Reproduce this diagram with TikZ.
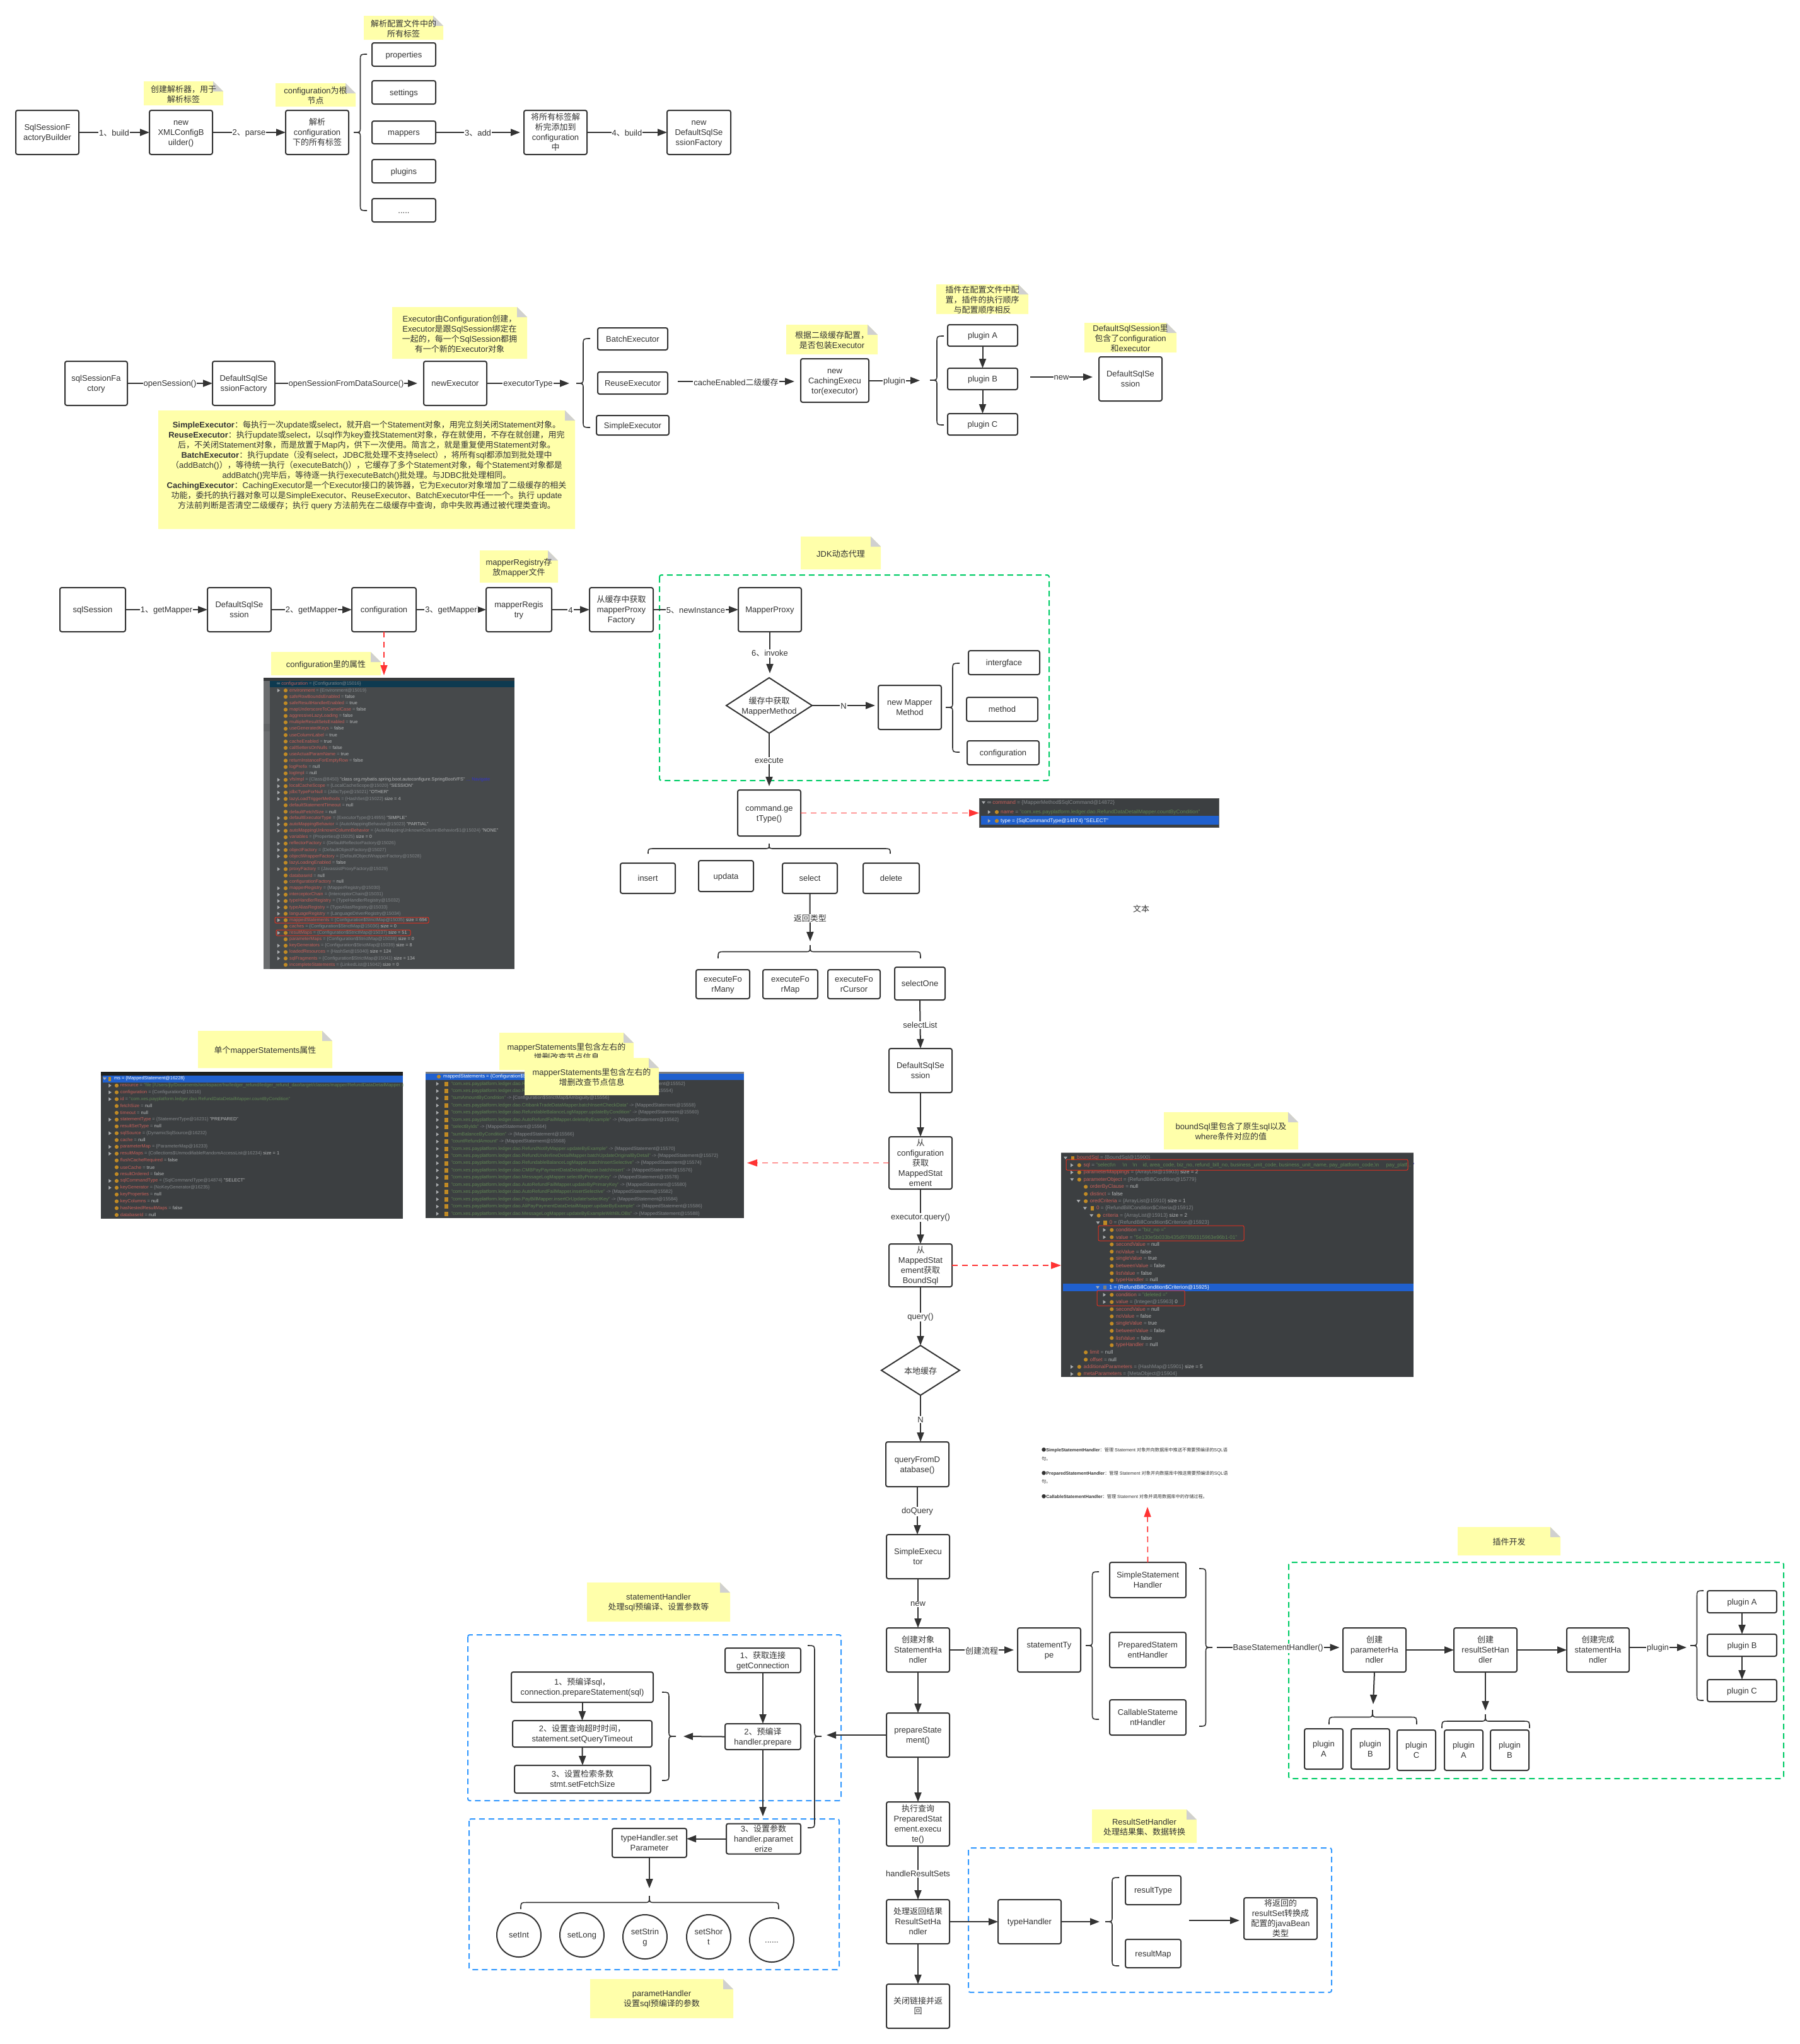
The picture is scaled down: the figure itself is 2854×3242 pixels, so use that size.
\documentclass[tikz,border=0pt]{standalone}
\usepackage{fontspec}
\usetikzlibrary{arrows.meta}
\setmainfont{Liberation Sans}
\newfontfamily\cjkfont{Noto Sans CJK SC}
% automatic switch to the CJK family for CJK characters
\newXeTeXintercharclass\cjkcls
\newcount\cjkn
\newcommand\cjkrange[2]{\cjkn=#1 \loop\XeTeXcharclass\cjkn=\cjkcls\relax\ifnum\cjkn<#2 \advance\cjkn by 1 \repeat}
\cjkrange{"3000}{"303F}
\cjkrange{"4E00}{"9FFF}
\cjkrange{"FF00}{"FFEF}
\XeTeXcharclass"25CF=\cjkcls
\XeTeXinterchartoks 0 \cjkcls={\cjkfont}
\XeTeXinterchartoks 4095 \cjkcls={\cjkfont}
\XeTeXinterchartoks \cjkcls 0={\rmfamily}
\XeTeXinterchartoks \cjkcls 4095={\rmfamily}
\XeTeXinterchartokenstate=1

\definecolor{ink}{HTML}{333333}
\definecolor{notey}{HTML}{FFFFAA}
\definecolor{foldg}{HTML}{D0D0D0}
\definecolor{redl}{HTML}{FF3333}
\definecolor{greenl}{HTML}{00CC66}
\definecolor{bluel}{HTML}{3399FF}
\definecolor{nm}{HTML}{C8605A}
\definecolor{gyc}{HTML}{84888B}
\definecolor{wvc}{HTML}{B8BABB}
\definecolor{svc}{HTML}{5F8553}
\definecolor{icoc}{HTML}{C08A25}
\definecolor{trc}{HTML}{A9ABAD}
\definecolor{shotbg}{HTML}{3C3F41}
\definecolor{shotbgb}{HTML}{46494B}
\definecolor{bandb}{HTML}{2060CE}
\definecolor{bandt}{HTML}{0E3A50}
\definecolor{redb}{HTML}{E03020}
\newcommand\Vg[1]{\textcolor{gyc}{#1}}
\newcommand\Vw[1]{\textcolor{wvc}{#1}}
\newcommand\Vs[1]{\textcolor{svc}{#1}}
\newcommand\Tc[1]{\raisebox{-1.5pt}[\height][\depth]{\begin{tabular}{@{}c@{}}#1\end{tabular}}}
\newcommand\Mx{}\newcommand\My{}\newcommand\Mw{}\newcommand\Mh{}\newcommand\Mm{}
\newcommand\rowfont{\fontsize{7.3}{8}\selectfont}
\newcommand\mybox[6]{\pgfmathsetmacro\Mx{(#2+#4)/2}\pgfmathsetmacro\My{(#3+#5)/2}\pgfmathsetmacro\Mw{#4-#2}\pgfmathsetmacro\Mh{#5-#3}\node[bx,minimum width=\Mw,minimum height=\Mh] (#1) at (\Mx,\My) {\Tc{#6}};}
\newcommand\mynote[6]{\pgfmathsetmacro\Mx{(#2+#4)/2}\pgfmathsetmacro\My{(#3+#5)/2}\fill[notey] (#2,#3) -- (#4-16,#3) -- (#4,#3+16) -- (#4,#5) -- (#2,#5) -- cycle;\fill[foldg] (#4-16,#3) -- (#4,#3+16) -- (#4-16,#3+16) -- cycle;\node[notetxt] (#1) at (\Mx,\My) {#6};}
% vertical brace: tip x, ends x, y top, y bottom, y of the tip
\newcommand\BrV[5]{\pgfmathsetmacro\Mm{(#1+#2)/2}\draw[brc] (#2,#3) .. controls (\Mm,#3) .. (\Mm,#3+10) -- (\Mm,#5-8) .. controls (\Mm,#5) .. (#1,#5) .. controls (\Mm,#5) .. (\Mm,#5+8) -- (\Mm,#4-10) .. controls (\Mm,#4) .. (#2,#4);}
% horizontal brace: x left, x right, y tip, y ends, x of the tip
\newcommand\BrH[5]{\pgfmathsetmacro\Mm{(#3+#4)/2}\draw[brc] (#1,#4) .. controls (#1,\Mm) .. (#1+10,\Mm) -- (#5-8,\Mm) .. controls (#5,\Mm) .. (#5,#3) .. controls (#5,\Mm) .. (#5+8,\Mm) -- (#2-10,\Mm) .. controls (#2,\Mm) .. (#2,#4);}
\newcount\rowno
\let\ifbaricon\iffalse
\newcommand\barnext{\let\ifbaricon\iftrue}
% row of a debugger screenshot: flag(0,1,2), tri x, icon x, text x, y, name, value
\newcommand\R[7]{%
 \ifnum#1=1 \fill[trc] (#2-2.2,#5-3) -- (#2+2.2,#5) -- (#2-2.2,#5+3) -- cycle;\fi
 \ifnum#1=2 \fill[trc] (#2-3,#5-2.2) -- (#2+3,#5-2.2) -- (#2,#5+2.2) -- cycle;\fi
 \ifbaricon \fill[icoc] (#3-2.6,#5-3.2) rectangle (#3+2.6,#5+3.2);\else \fill[icoc] (#3,#5) circle (3.1);\fi
 \let\ifbaricon\iffalse
 \global\advance\rowno by 1
 \node[rowtxt] (row\the\rowno) at (#4,#5) {\textcolor{nm}{#6} \Vg{=} #7};%
}
\newcommand\RA[4]{\pgfmathsetmacro\My{1085+10.12*#1}\R{#2}{442}{453}{459}{\My}{#3}{#4}}
\newcommand\RB[4]{\pgfmathsetmacro\My{1711+10.8*#1}\R{#2}{174.5}{185}{190.7}{\My}{#3}{#4}}
\newcommand\RC[2]{\pgfmathsetmacro\My{1707.6+11.45*#1}\fill[trc] (694-2.2,\My-3) -- (694+2.2,\My) -- (694-2.2,\My+3) -- cycle;\fill[icoc] (705.4,\My-3.5) rectangle (710.6,\My+3.5);\global\advance\rowno by 1 \node[rowtxt] (row\the\rowno) at (715.4,\My) {#2};}
\newcommand\RD[5]{\pgfmathsetmacro\My{1836.7+11.42*#1}\pgfmathsetmacro\Mm{1708+10.3*#2}\R{#3}{\Mm-18}{\Mm-6.5}{\Mm}{\My}{#4}{#5}}
\newcommand\Dao{"com.xes.payplatform.ledger.dao.}
\newcommand\MS[1]{\Vg{-> \{MappedStatement@#1\}}}

\tikzset{
 bx/.style={draw=ink,line width=2pt,rounded corners=3pt,fill=white,inner sep=0pt,outer sep=0pt,text=ink,font=\fontsize{13}{16}\selectfont},
 circ/.style={draw=ink,line width=2pt,circle,fill=white,inner sep=0pt,outer sep=0pt,minimum size=70pt,text=ink,font=\fontsize{13}{16}\selectfont},
 notetxt/.style={inner sep=0pt,align=center,text=ink,yshift=-1.5pt,font=\fontsize{13}{16}\selectfont},
 dia/.style={draw=ink,line width=2pt,fill=white},
 arr/.style={draw=ink,line width=2pt,-{Triangle[length=15pt,width=11pt]}},
 lab/.style={fill=white,inner sep=1pt,text=ink,yshift=-1.5pt,font=\fontsize{13}{16}\selectfont},
 brc/.style={draw=ink,line width=1.6pt},
 redarr/.style={draw=redl,line width=1.6pt,dash pattern=on 9pt off 7pt,-{Triangle[length=16pt,width=11pt]}},
 greenbox/.style={draw=greenl,line width=2pt,dash pattern=on 9pt off 6pt,rounded corners=3pt},
 bluebox/.style={draw=bluel,line width=2pt,dash pattern=on 9pt off 6pt,rounded corners=3pt},
 rowtxt/.style={anchor=west,inner sep=0pt,text=wvc,font=\rowfont},
 redr/.style={draw=redb,line width=1pt,rounded corners=2pt},
 tinytxt/.style={anchor=west,inner sep=0pt,text=ink,font=\fontsize{7.2}{9}\selectfont},
}
\begin{document}
\begin{tikzpicture}[x=1pt,y=-1pt]
\useasboundingbox (0,0) rectangle (2854,3242);
\fill[white] (0,0) rectangle (2854,3242);

%%%%%%%%%%%%%%% row 1
\mynote{na}{577}{25}{703}{63}{解析配置文件中的\\所有标签}
\mynote{nb}{228}{129}{354}{167}{创建解析器，用于\\解析标签}
\mynote{nc}{437}{132}{564}{169}{configuration为根\\节点}
\mybox{aa}{25}{175}{125}{245}{SqlSessionF\\actoryBuilder}
\mybox{ab}{237}{175}{337}{245}{new\\XMLConfigB\\uilder()}
\mybox{ac}{453}{175}{553}{245}{解析\\configuration\\下的所有标签}
\mybox{pa}{590}{68}{691}{105}{properties}
\mybox{pb}{590}{128}{691}{165}{settings}
\mybox{pc}{590}{192}{691}{228}{mappers}
\mybox{pd}{590}{253}{691}{290}{plugins}
\mybox{pe}{590}{315}{691}{352}{.....}
\mybox{ad}{831}{175}{931}{245}{将所有标签解\\析完添加到\\configuration\\中}
\mybox{ae}{1058}{175}{1159}{245}{new\\DefaultSqlSe\\ssionFactory}
\BrV{561}{582}{86}{334}{210}
\coordinate (adin) at (825,210);
\draw[arr] (aa.east) -- node[lab] (la1) {1、build} (ab.west);
\draw[arr] (ab.east) -- node[lab] (la2) {2、parse} (ac.west);
\draw[arr] (pc.east) -- node[lab] (la3) {3、add} (adin);
\draw[arr] (ad.east) -- node[lab] (la4) {4、build} (ae.west);

%%%%%%%%%%%%%%% row 2
\mynote{nd}{622}{487}{836}{569}{Executor由Configuration创建，\\Executor是跟SqlSession绑定在\\一起的，每一个SqlSession都拥\\有一个新的Executor对象}
\mynote{ne}{1247}{515}{1392}{562}{根据二级缓存配置，\\是否包装Executor}
\mynote{nf}{1485}{451}{1631}{498}{插件在配置文件中配\\置，插件的执行顺序\\与配置顺序相反}
\mynote{ng}{1720}{512}{1866}{559}{DefaultSqlSession里\\包含了configuration\\和executor}
\mybox{ba}{103}{573}{202}{643}{sqlSessionFa\\ctory}
\mybox{bb}{337}{573}{436}{643}{DefaultSqlSe\\ssionFactory}
\mybox{bc}{672}{573}{772}{643}{newExecutor}
\mybox{ea}{948}{520}{1059}{555}{BatchExecutor}
\mybox{eb}{948}{590}{1059}{625}{ReuseExecutor}
\mybox{ec}{946}{659}{1061}{690}{SimpleExecutor}
\BrV{914}{936}{537}{678}{608}
\mybox{bd}{1270}{569}{1378}{638}{new\\CachingExecu\\tor(executor)}
\mybox{ga}{1503}{515}{1614}{549}{plugin A}
\mybox{gb}{1503}{584}{1614}{618}{plugin B}
\mybox{gc}{1503}{656}{1614}{690}{plugin C}
\BrV{1475}{1497}{533}{674}{603}
\mybox{be}{1743}{566}{1843}{636}{DefaultSqlSe\\ssion}
\coordinate (c1) at (662,608);
\coordinate (c2) at (903,608);
\coordinate (c3) at (1075,605);
\coordinate (c4) at (1260,605);
\coordinate (c5) at (1459,603.5);
\coordinate (c6) at (1634,598);
\coordinate (c7) at (1733,598);
\draw[arr] (ba.east) -- node[lab] (lb1) {openSession()} (bb.west);
\draw[arr] (bb.east) -- node[lab] (lb2) {openSessionFromDataSource()} (c1);
\draw[arr] (bc.east) -- node[lab] (lb3) {executorType} (c2);
\draw[arr] (c3) -- node[lab] (lb4) {cacheEnabled二级缓存} (c4);
\draw[arr] (bd.east) -- node[lab] (lb5) {plugin} (c5);
\draw[arr] (c6) -- node[lab] (lb6) {new} (c7);
\draw[arr] (ga.south) -- (gb.north);
\draw[arr] (gb.south) -- (gc.north);

% the long note
\fill[notey] (251,651) -- (896,651) -- (912,667) -- (912,839) -- (251,839) -- cycle;
\fill[foldg] (896,651) -- (912,667) -- (896,667) -- cycle;
\node[notetxt,anchor=north] (nh) at (581.5,666) {\textbf{SimpleExecutor}：每执行一次update或select，就开启一个Statement对象，用完立刻关闭Statement对象。\\
\textbf{ReuseExecutor}：执行update或select，以sql作为key查找Statement对象，存在就使用，不存在就创建，用完\\
后，不关闭Statement对象，而是放置于Map内，供下一次使用。简言之，就是重复使用Statement对象。\\
\textbf{BatchExecutor}：执行update（没有select，JDBC批处理不支持select），将所有sql都添加到批处理中\\
（addBatch()），等待统一执行（executeBatch()），它缓存了多个Statement对象，每个Statement对象都是\\
addBatch()完毕后，等待逐一执行executeBatch()批处理。与JDBC批处理相同。\\
\textbf{CachingExecutor}：CachingExecutor是一个Executor接口的装饰器，它为Executor对象增加了二级缓存的相关\\
功能，委托的执行器对象可以是SimpleExecutor、ReuseExecutor、BatchExecutor中任一一个。执行 update\\
方法前判断是否清空二级缓存；执行 query 方法前先在二级缓存中查询，命中失败再通过被代理类查询。};

%%%%%%%%%%%%%%% row 3
\draw[greenbox] (1046,912) rectangle (1664,1238);
\mynote{ni}{761}{873}{885}{924}{mapperRegistry存\\放mapper文件}
\mynote{nj}{1270}{851}{1397}{903}{JDK动态代理}
\mynote{nk}{430}{1034}{604}{1071}{configuration里的属性}
\mybox{ca}{95}{932}{199}{1002}{sqlSession}
\mybox{cb}{329}{932}{430}{1002}{DefaultSqlSe\\ssion}
\mybox{cc}{558}{932}{660}{1002}{configuration}
\mybox{cd}{771}{932}{875}{1002}{mapperRegis\\try}
\mybox{ce}{935}{932}{1036}{1002}{从缓存中获取\\mapperProxy\\Factory}
\mybox{cf}{1171}{932}{1271}{1002}{MapperProxy}
\draw[arr] (ca.east) -- node[lab] (lc1) {1、getMapper} (cb.west);
\draw[arr] (cb.east) -- node[lab] (lc2) {2、getMapper} (cc.west);
\draw[arr] (cc.east) -- node[lab] (lc3) {3、getMapper} (cd.west);
\draw[arr] (cd.east) -- node[lab] (lc4) {4} (ce.west);
\draw[arr] (ce.east) -- node[lab] (lc5) {5、newInstance} (cf.west);
% diamond
\coordinate (dc) at (1220,1119);
\coordinate (dn) at (1220,1075);
\coordinate (ds) at (1220,1163);
\coordinate (dw) at (1152,1119);
\coordinate (de) at (1288,1119);
\draw[dia] (dn) -- (de) -- (ds) -- (dw) -- cycle;
\node[notetxt] (dt) at (dc) {缓存中获取\\MapperMethod};
\mybox{ch}{1393}{1087}{1493}{1157}{new Mapper\\Method}
\mybox{ci}{1536}{1032}{1649}{1070}{intergface}
\mybox{cj}{1533}{1106}{1646}{1144}{method}
\mybox{ck}{1534}{1175}{1648}{1213}{configuration}
\BrV{1500}{1522}{1052}{1193}{1122}
\coordinate (c8) at (1221,1068);
\coordinate (c9) at (1388,1119);
\coordinate (c10) at (1220,1247);
\draw[arr] (cf.south) -- node[lab] (lc6) {6、invoke} (c8);
\draw[arr] (de) -- node[lab] (lc7) {N} (c9);
\draw[arr] (ds) -- node[lab] (lc8) {execute} (c10);
\mybox{cm}{1170}{1253}{1270}{1326}{command.ge\\tType()}
\BrH{1028}{1412}{1338}{1354}{1220}
\mybox{ma}{984}{1369}{1071}{1417}{insert}
\mybox{mb}{1108}{1365}{1195}{1414}{updata}
\mybox{mc}{1241}{1369}{1328}{1417}{select}
\mybox{md}{1369}{1369}{1458}{1417}{delete}
\coordinate (c11) at (1285,1493);
\draw[arr] (mc.south) -- node[lab] (lc9) {返回类型} (c11);
\BrH{1139}{1460}{1499}{1520}{1285}
\mybox{ra}{1104}{1538}{1189}{1584}{executeFo\\rMany}
\mybox{rb}{1210}{1538}{1297}{1584}{executeFo\\rMap}
\mybox{rc}{1313}{1538}{1396}{1584}{executeFo\\rCursor}
\mybox{rd}{1419}{1534}{1499}{1586}{selectOne}
\node[notetxt] (wb) at (1810,1440) {文本};

%%%%%%%%%%%%%%% screenshot: configuration
\node[fill=shotbgb,minimum width=398,minimum height=462,inner sep=0pt,outer sep=0pt] (shotA) at (617,1306) {};
\begin{scope}
\clip (418,1075) rectangle (816,1537);
\fill[black!20!shotbgb] (418,1075) rectangle (816,1080);
\fill[shotbgb!80!white] (418,1080) rectangle (428,1537);
\fill[shotbgb!85!white] (418,1148) rectangle (428,1160);
\fill[bandt] (428,1080) rectangle (816,1090);
\renewcommand\rowfont{\fontsize{7.3}{8}\selectfont}
\global\advance\rowno by 1
\node[rowtxt] (row\the\rowno) at (439,1085) {\textcolor{trc}{∞} \textcolor{nm}{configuration} \Vg{= \{Configuration@15016\}}};
\RA{1}{1}{environment}{\Vg{\{Environment@15019\}}}
\RA{2}{0}{safeRowBoundsEnabled}{false}
\RA{3}{0}{safeResultHandlerEnabled}{true}
\RA{4}{0}{mapUnderscoreToCamelCase}{false}
\RA{5}{0}{aggressiveLazyLoading}{false}
\RA{6}{0}{multipleResultSetsEnabled}{true}
\RA{7}{0}{useGeneratedKeys}{false}
\RA{8}{0}{useColumnLabel}{true}
\RA{9}{0}{cacheEnabled}{true}
\RA{10}{0}{callSettersOnNulls}{false}
\RA{11}{0}{useActualParamName}{true}
\RA{12}{0}{returnInstanceForEmptyRow}{false}
\RA{13}{0}{logPrefix}{null}
\RA{14}{0}{logImpl}{null}
\RA{15}{1}{vfsImpl}{\Vg{\{Class@8450\}} "class org.mybatis.spring.boot.autoconfigure.SpringBootVFS" \textcolor{blue!60!gray}{... Navigate}}
\RA{16}{1}{localCacheScope}{\Vg{\{LocalCacheScope@15020\}} "SESSION"}
\RA{17}{1}{jdbcTypeForNull}{\Vg{\{JdbcType@15021\}} "OTHER"}
\RA{18}{1}{lazyLoadTriggerMethods}{\Vg{\{HashSet@15022\}} size = 4}
\RA{19}{0}{defaultStatementTimeout}{null}
\RA{20}{0}{defaultFetchSize}{null}
\RA{21}{1}{defaultExecutorType}{\Vg{\{ExecutorType@14955\}} "SIMPLE"}
\RA{22}{1}{autoMappingBehavior}{\Vg{\{AutoMappingBehavior@15023\}} "PARTIAL"}
\RA{23}{1}{autoMappingUnknownColumnBehavior}{\Vg{\{AutoMappingUnknownColumnBehavior\$1@15024\}} "NONE"}
\RA{24}{0}{variables}{\Vg{\{Properties@15025\}} size = 0}
\RA{25}{1}{reflectorFactory}{\Vg{\{DefaultReflectorFactory@15026\}}}
\RA{26}{1}{objectFactory}{\Vg{\{DefaultObjectFactory@15027\}}}
\RA{27}{1}{objectWrapperFactory}{\Vg{\{DefaultObjectWrapperFactory@15028\}}}
\RA{28}{0}{lazyLoadingEnabled}{false}
\RA{29}{1}{proxyFactory}{\Vg{\{JavassistProxyFactory@15029\}}}
\RA{30}{0}{databaseId}{null}
\RA{31}{0}{configurationFactory}{null}
\RA{32}{1}{mapperRegistry}{\Vg{\{MapperRegistry@15030\}}}
\RA{33}{1}{interceptorChain}{\Vg{\{InterceptorChain@15031\}}}
\RA{34}{1}{typeHandlerRegistry}{\Vg{\{TypeHandlerRegistry@15032\}}}
\RA{35}{1}{typeAliasRegistry}{\Vg{\{TypeAliasRegistry@15033\}}}
\RA{36}{1}{languageRegistry}{\Vg{\{LanguageDriverRegistry@15034\}}}
\RA{37}{1}{mappedStatements}{\Vg{\{Configuration\$StrictMap@15035\}} size = 694}
\RA{38}{0}{caches}{\Vg{\{Configuration\$StrictMap@15036\}} size = 0}
\RA{39}{1}{resultMaps}{\Vg{\{Configuration\$StrictMap@15037\}} size = 51}
\RA{40}{0}{parameterMaps}{\Vg{\{Configuration\$StrictMap@15038\}} size = 0}
\RA{41}{1}{keyGenerators}{\Vg{\{Configuration\$StrictMap@15039\}} size = 8}
\RA{42}{1}{loadedResources}{\Vg{\{HashSet@15040\}} size = 124}
\RA{43}{1}{sqlFragments}{\Vg{\{Configuration\$StrictMap@15041\}} size = 134}
\RA{44}{0}{incompleteStatements}{\Vg{\{LinkedList@15042\}} size = 0}
\draw[redr] (436,1455) rectangle (680,1464);
\draw[redr] (438,1475) rectangle (651,1484);
\end{scope}

\coordinate (c12) at (609,1071);
\draw[redarr] (cc.south) -- (c12);

%%%%%%%%%%%%%%% screenshot: command
\node[draw=gray!80!black,line width=1pt,fill=shotbg,minimum width=380,minimum height=46,inner sep=0pt,outer sep=0pt] (shotE) at (1743,1289) {};
\fill[bandb] (1556,1294) rectangle (1933,1308);
\begin{scope}
\renewcommand\rowfont{\fontsize{8.3}{9}\selectfont}
\fill[trc] (1560-3,1273-2.2) -- (1560+3,1273-2.2) -- (1560,1273+2.2) -- cycle;
\global\advance\rowno by 1
\node[rowtxt] (row\the\rowno) at (1566,1273) {\textcolor{trc}{∞} \textcolor{nm}{command} \Vg{= \{MapperMethod\$SqlCommand@14872\}}};
\R{1}{1569}{1581}{1587}{1288}{name}{\Vs{"com.xes.payplatform.ledger.dao.RefundDataDetailMapper.countByCondition"}}
\fill[trc] (1569-2.2,1302-3) -- (1569+2.2,1302) -- (1569-2.2,1302+3) -- cycle;
\fill[icoc] (1581,1302) circle (3.1);
\global\advance\rowno by 1
\node[rowtxt] (row\the\rowno) at (1587,1302) {\textcolor{white}{type = \{SqlCommandType@14874\} "SELECT"}};
\end{scope}
\draw[redarr] (cm.east) -- (cm.east -| shotE.west);

%%%%%%%%%%%%%%% main column
\mybox{sa}{1410}{1663}{1510}{1733}{DefaultSqlSe\\ssion}
\mybox{sb}{1410}{1803}{1510}{1886}{从\\configuration\\获取\\MappedStat\\ement}
\mybox{sc}{1410}{1973}{1510}{2041}{从\\MappedStat\\ement获取\\BoundSql}
\coordinate (gn) at (1460,2134);
\coordinate (gs) at (1460,2213);
\coordinate (gw) at (1398,2173.5);
\coordinate (ge) at (1522,2173.5);
\draw[dia] (gn) -- (ge) -- (gs) -- (gw) -- cycle;
\node[notetxt] (gt) at (1460,2173.5) {本地缓存};
\mybox{sd}{1405}{2287}{1505}{2358}{queryFromD\\atabase()}
\mybox{se}{1406}{2434}{1506}{2504}{SimpleExecu\\tor}
\mybox{sf}{1406}{2582}{1506}{2652}{创建对象\\StatementHa\\ndler}
\mybox{sg}{1406}{2717}{1506}{2787}{prepareState\\ment()}
\mybox{sh}{1406}{2858}{1506}{2928}{执行查询\\PreparedStat\\ement.execu\\te()}
\mybox{si}{1406}{3013}{1506}{3083}{处理返回结果\\ResultSetHa\\ndler}
\mybox{sj}{1406}{3147}{1506}{3217}{关闭链接并返\\回}
\draw[arr] (rd.south) -- node[lab] (ld1) {selectList} (sa.north);
\draw[arr] (sa.south) -- (sb.north);
\draw[arr] (sb.south) -- node[lab] (ld2) {executor.query()} (sc.north);
\draw[arr] (sc.south) -- node[lab] (ld3) {query()} (gn);
\draw[arr] (gs) -- node[lab] (ld4) {N} (gs |- sd.north);
\draw[arr] (sd.south) -- node[lab] (ld5) {doQuery} (sd.south |- se.north);
\draw[arr] (se.south) -- node[lab] (ld6) {new} (sf.north);
\draw[arr] (sf.south) -- (sg.north);
\draw[arr] (sg.south) -- (sh.north);
\draw[arr] (sh.south) -- node[lab] (ld7) {handleResultSets} (si.north);
\draw[arr] (si.south) -- (sj.north);

%%%%%%%%%%%%%%% screenshot: single mappedStatement
\node[fill=shotbg,minimum width=479,minimum height=233,inner sep=0pt,outer sep=0pt] (shotB) at (399.5,1816.5) {};
\begin{scope}
\clip (160,1700) rectangle (639,1933);
\fill[black!50!shotbg] (160,1700) rectangle (639,1706);
\fill[bandb] (163,1706) rectangle (639,1717);
\renewcommand\rowfont{\fontsize{7.4}{8}\selectfont}
\fill[trc] (166-3,1711-2.2) -- (166+3,1711-2.2) -- (166,1711+2.2) -- cycle;
\fill[icoc] (174-2.2,1711-3.5) rectangle (174+2.2,1711+3.5);
\global\advance\rowno by 1
\node[rowtxt] (row\the\rowno) at (181,1711) {\textcolor{white}{ms = \{MappedStatement@16228\}}};
\RB{1}{1}{resource}{\Vs{"file [/Users/jly/Documents/workspace/hw/ledger\_refund/ledger\_refund\_dao/target/classes/mapper/RefundDataDetailMapper.xml]"}}
\RB{2}{1}{configuration}{\Vg{\{Configuration@15016\}}}
\RB{3}{1}{id}{\Vs{"com.xes.payplatform.ledger.dao.RefundDataDetailMapper.countByCondition"}}
\RB{4}{0}{fetchSize}{null}
\RB{5}{0}{timeout}{null}
\RB{6}{1}{statementType}{\Vg{\{StatementType@16231\}} "PREPARED"}
\RB{7}{0}{resultSetType}{null}
\RB{8}{1}{sqlSource}{\Vg{\{DynamicSqlSource@16232\}}}
\RB{9}{0}{cache}{null}
\RB{10}{1}{parameterMap}{\Vg{\{ParameterMap@16233\}}}
\RB{11}{1}{resultMaps}{\Vg{\{Collections\$UnmodifiableRandomAccessList@16234\}} size = 1}
\RB{12}{0}{flushCacheRequired}{false}
\RB{13}{0}{useCache}{true}
\RB{14}{0}{resultOrdered}{false}
\RB{15}{1}{sqlCommandType}{\Vg{\{SqlCommandType@14874\}} "SELECT"}
\RB{16}{1}{keyGenerator}{\Vg{\{NoKeyGenerator@16235\}}}
\RB{17}{0}{keyProperties}{null}
\RB{18}{0}{keyColumns}{null}
\RB{19}{0}{hasNestedResultMaps}{false}
\RB{20}{0}{databaseId}{null}
\end{scope}

%%%%%%%%%%%%%%% screenshot: mappedStatements
\node[fill=shotbg,minimum width=505,minimum height=232,inner sep=0pt,outer sep=0pt] (shotC) at (927.5,1816) {};
\begin{scope}
\clip (675,1700) rectangle (1180,1932);
\fill[gray] (675,1700) rectangle (1180,1703);
\fill[bandb] (675,1703) rectangle (1180,1712.5);
\renewcommand\rowfont{\fontsize{7.6}{8}\selectfont}
\fill[icoc] (696,1707.6) circle (3.1);
\global\advance\rowno by 1
\node[rowtxt] (row\the\rowno) at (703,1707.6) {\textcolor{white}{mappedStatements = \{Configuration\$StrictMap@15035\} size = 694}};
\RC{1}{\Vs{\Dao RefundDataDetailMapper.updateByExample"} \MS{15552}}
\RC{2}{\Vs{\Dao RefundDetailMapper.selectByExample"} \MS{15554}}
\RC{3}{\Vs{"sumAmountByCondition"} \Vg{-> \{Configuration\$StrictMap\$Ambiguity@15556\}}}
\RC{4}{\Vs{\Dao CitibankTradeDataMapper.batchInsertCheckData"} \MS{15558}}
\RC{5}{\Vs{\Dao RefundableBalanceLogMapper.updateByCondition"} \MS{15560}}
\RC{6}{\Vs{\Dao AutoRefundFailMapper.deleteByExample"} \MS{15562}}
\RC{7}{\Vs{"selectByIds"} \MS{15564}}
\RC{8}{\Vs{"sumBalanceByCondition"} \MS{15566}}
\RC{9}{\Vs{"countRefundAmount"} \MS{15568}}
\RC{10}{\Vs{\Dao RefundNotifyMapper.updateByExample"} \MS{15570}}
\RC{11}{\Vs{\Dao RefundUnderlineDetailMapper.batchUpdateOriginalByDetail"} \MS{15572}}
\RC{12}{\Vs{\Dao RefundableBalanceLogMapper.batchInsertSelective"} \MS{15574}}
\RC{13}{\Vs{\Dao CMBPayPaymentDataDetailMapper.batchInsert"} \MS{15576}}
\RC{14}{\Vs{\Dao MessageLogMapper.selectByPrimaryKey"} \MS{15578}}
\RC{15}{\Vs{\Dao AutoRefundFailMapper.updateByPrimaryKey"} \MS{15580}}
\RC{16}{\Vs{\Dao AutoRefundFailMapper.insertSelective"} \MS{15582}}
\RC{17}{\Vs{\Dao PayBillMapper.insertOrUpdate!selectKey"} \MS{15584}}
\RC{18}{\Vs{\Dao AliPayPaymentDataDetailMapper.updateByExample"} \MS{15586}}
\RC{19}{\Vs{\Dao MessageLogMapper.updateByExampleWithBLOBs"} \MS{15588}}
\end{scope}
\mynote{nl}{314}{1635}{527}{1694}{单个mapperStatements属性}
\mynote{nm}{792}{1638}{1005}{1697}{mapperStatements里包含左右的\\增删改查节点信息}
\mynote{nn}{832}{1678}{1045}{1737}{mapperStatements里包含左右的\\增删改查节点信息}
\draw[redarr,shorten >=5pt] (sb.west) -- (sb.west -| shotC.east);

%%%%%%%%%%%%%%% screenshot: boundSql
\node[fill=shotbg,minimum width=559,minimum height=356,inner sep=0pt,outer sep=0pt] (shotD) at (1962.5,2006) {};
\begin{scope}
\clip (1683,1828) rectangle (2242,2184);
\fill[gray] (1683,1828) rectangle (2242,1829);
\fill[bandb] (1686,2036) rectangle (2242,2048);
\renewcommand\rowfont{\fontsize{8.2}{9}\selectfont}
\barnext\RD{0}{0}{2}{boundSql}{\Vg{\{BoundSql@15900\}}}
\RD{1}{1}{1}{sql}{\Vs{"select\textbackslash n \ \ \ \ \textbackslash n \ \ \ \textbackslash n \ \ \ id, area\_code, biz\_no, refund\_bill\_no, business\_unit\_code, business\_unit\_name, pay\_platform\_code,\textbackslash n \ \ \ \ pay\_platf...} \textcolor{blue!60!gray}{View}}
\RD{2}{1}{1}{parameterMappings}{\Vg{\{ArrayList@15903\}} size = 2}
\RD{3}{1}{2}{parameterObject}{\Vg{\{RefundBillCondition@15779\}}}
\RD{4}{2}{0}{orderByClause}{null}
\RD{5}{2}{0}{distinct}{false}
\RD{6}{2}{2}{oredCriteria}{\Vg{\{ArrayList@15910\}} size = 1}
\barnext\RD{7}{3}{2}{0}{\Vg{\{RefundBillCondition\$Criteria@15912\}}}
\RD{8}{4}{2}{criteria}{\Vg{\{ArrayList@15913\}} size = 2}
\barnext\RD{9}{5}{2}{0}{\Vg{\{RefundBillCondition\$Criterion@15923\}}}
\RD{10}{6}{1}{condition}{\Vs{"biz\_no ="}}
\RD{11}{6}{1}{value}{\Vs{"5e130e5b033b435d97850315963e96b1-01"}}
\RD{12}{6}{0}{secondValue}{null}
\RD{13}{6}{0}{noValue}{false}
\RD{14}{6}{0}{singleValue}{true}
\RD{15}{6}{0}{betweenValue}{false}
\RD{16}{6}{0}{listValue}{false}
\RD{17}{6}{0}{typeHandler}{null}
\fill[trc] (1741-3,2042-2.2) -- (1741+3,2042-2.2) -- (1741,2042+2.2) -- cycle;
\fill[gray] (1750,2038.8) rectangle (1755.2,2045.2);
\global\advance\rowno by 1
\node[rowtxt] (row\the\rowno) at (1759.5,2042) {\textcolor{white}{1 = \{RefundBillCondition\$Criterion@15925\}}};
\RD{19}{6}{1}{condition}{\Vs{"deleted ="}}
\RD{20}{6}{1}{value}{\Vg{\{Integer@15963\}} 0}
\RD{21}{6}{0}{secondValue}{null}
\RD{22}{6}{0}{noValue}{false}
\RD{23}{6}{0}{singleValue}{true}
\RD{24}{6}{0}{betweenValue}{false}
\RD{25}{6}{0}{listValue}{false}
\RD{26}{6}{0}{typeHandler}{null}
\RD{27}{2}{0}{limit}{null}
\RD{28}{2}{0}{offset}{null}
\RD{29}{1}{1}{additionalParameters}{\Vg{\{HashMap@15901\}} size = 5}
\RD{30}{1}{1}{metaParameters}{\Vg{\{MetaObject@15904\}}}
\draw[redr] (1691,1839) rectangle (2233,1856);
\draw[redr] (1742,1944) rectangle (1973,1968);
\draw[redr] (1740,2047) rectangle (1879,2071);
\end{scope}
\mynote{no}{1846}{1764}{2059}{1823}{boundSql里包含了原生sql以及\\where条件对应的值}
\draw[redarr] (sc.east) -- (sc.east -| shotD.west);

%%%%%%%%%%%%%%% handlers
\node[tinytxt] (ta) at (1652,2300) {\textbf{●SimpleStatementHandler}：管理 Statement 对象并向数据库中推送不需要预编译的SQL语};
\node[tinytxt] (tb) at (1652,2314) {句。};
\node[tinytxt] (tc) at (1652,2337) {\textbf{●PreparedStatementHandler}：管理 Statement 对象并向数据库中推送需要预编译的SQL语};
\node[tinytxt] (td) at (1652,2350) {句。};
\node[tinytxt] (te) at (1652,2374) {\textbf{●CallableStatementHandler}：管理 Statement 对象并调用数据库中的存储过程。};

\draw[greenbox] (2044,2478) rectangle (2829,2821);
\mynote{np}{2312}{2422}{2475}{2467}{插件开发}
\mybox{ha}{1614}{2582}{1714}{2652}{statementTy\\pe}
\mybox{hb}{1760}{2478}{1881}{2534}{SimpleStatement\\Handler}
\mybox{hc}{1760}{2589}{1881}{2645}{PreparedStatem\\entHandler}
\mybox{hd}{1760}{2696}{1881}{2752}{CallableStateme\\ntHandler}
\BrV{1722}{1743}{2493}{2727}{2610}
\BrV{1923}{1902}{2488}{2738}{2613}
\coordinate (k1) at (1608,2617);
\coordinate (k2) at (1930,2613);
\coordinate (k3) at (2124.5,2613);
\coordinate (k4) at (1820,2390);
\draw[arr] (sf.east) -- node[lab] (le1) {创建流程} (k1);
\draw[arr] (k2) -- node[lab] (le2) {BaseStatementHandler()} (k3);
\draw[redarr] (hb.north) -- (k4);
\mybox{ia}{2130}{2582}{2230}{2652}{创建\\parameterHa\\ndler}
\mybox{ib}{2306}{2582}{2406}{2652}{创建\\resultSetHan\\dler}
\mybox{ic}{2485}{2582}{2584}{2652}{创建完成\\statementHa\\ndler}
\mybox{id}{2708}{2523}{2818}{2558}{plugin A}
\mybox{ie}{2708}{2592}{2818}{2627}{plugin B}
\mybox{if}{2708}{2664}{2818}{2699}{plugin C}
\BrV{2681}{2702}{2523}{2697}{2610}
\coordinate (k5) at (2675,2613);
\draw[arr] (ia.east) -- (ib.west);
\draw[arr] (ib.east) -- (ic.west);
\draw[arr] (ic.east |- k5) -- node[lab] (le3) {plugin} (k5);
\draw[arr] (id.south) -- (ie.north);
\draw[arr] (ie.south) -- (if.north);
\mybox{ja}{2069}{2742}{2130}{2806}{plugin\\A}
\mybox{jb}{2143}{2742}{2204}{2806}{plugin\\B}
\mybox{jc}{2216}{2744}{2277}{2808}{plugin\\C}
\mybox{jd}{2291}{2744}{2352}{2808}{plugin\\A}
\mybox{je}{2364}{2744}{2425}{2808}{plugin\\B}
\BrH{2108}{2247}{2712}{2735}{2177}
\BrH{2287}{2426}{2719}{2741}{2356}
\coordinate (k6) at (2178,2703);
\coordinate (k7) at (2356,2713);
\draw[arr] (ia.south) -- (k6);
\draw[arr] (ib.south) -- (k7);

%%%%%%%%%%%%%%% resultset
\draw[bluebox] (1536,2931) rectangle (2112,3160);
\mynote{nq}{1732}{2870}{1898}{2923}{ResultSetHandler\\处理结果集、数据转换}
\mybox{ka}{1583}{3013}{1683}{3083}{typeHandler}
\mybox{kb}{1785}{2975}{1873}{3021}{resultType}
\mybox{kc}{1785}{3076}{1873}{3121}{resultMap}
\mybox{kd}{1973}{3010}{2089}{3076}{将返回的\\resultSet转换成\\配置的javaBean\\类型}
\BrV{1753}{1775}{2978}{3118}{3048}
\coordinate (k8) at (1744,3048);
\coordinate (k9) at (1886,3046);
\coordinate (k10) at (1966,3046);
\draw[arr] (si.east) -- (ka.west);
\draw[arr] (ka.east) -- (k8);
\draw[arr] (k9) -- (k10);

%%%%%%%%%%%%%%% statement handler
\draw[bluebox] (742,2593) rectangle (1334,2856);
\draw[bluebox] (744,2885) rectangle (1331,3124);
\mynote{nr}{931}{2510}{1158}{2572}{statementHandler\\处理sql预编译、设置参数等}
\mynote{ns}{936}{3139}{1163}{3201}{parametHandler\\设置sql预编译的参数}
\mybox{la}{1150}{2614}{1270}{2653}{1、获取连接\\getConnection}
\mybox{lb}{1150}{2734}{1270}{2775}{2、预编译\\handler.prepare}
\mybox{lc}{1152}{2893}{1270}{2940}{3、设置参数\\handler.paramet\\erize}
\mybox{ld}{811}{2652}{1036}{2700}{1、预编译sql，\\connection.prepareStatement(sql)}
\mybox{le}{813}{2729}{1034}{2771}{2、设置查询超时时间，\\statement.setQueryTimeout}
\mybox{lf}{816}{2800}{1032}{2844}{3、设置检索条数\\stmt.setFetchSize}
\mybox{lg}{971}{2900}{1089}{2946}{typeHandler.set\\Parameter}
\BrV{1072}{1050}{2684}{2824}{2754}
\BrV{1303}{1281}{2610}{2899}{2754}
\coordinate (m1) at (1084,2754);
\coordinate (m2) at (1311,2752);
\coordinate (m3) at (1210,2881);
\coordinate (m4) at (1030,2995);
\draw[arr] (la.south) -- (lb.north);
\draw[arr] (ld.south) -- (le.north);
\draw[arr] (le.south) -- (lf.north);
\draw[arr] (lb.west) -- (m1);
\draw[arr] (lb.south) -- (m3);
\draw[arr] (sg.west) -- (m2);
\draw[arr] (lc.west) -- (lc.west -| lg.east);
\draw[arr] (lg.south) -- (m4);
\BrH{826}{1235}{3007}{3028}{1030}
\node[circ] (oa) at (823,3069) {\Tc{setInt}};
\node[circ] (ob) at (923,3069) {\Tc{setLong}};
\node[circ] (oc) at (1023,3072) {\Tc{setStrin\\g}};
\node[circ] (od) at (1124,3072) {\Tc{setShor\\t}};
\node[circ] (oe) at (1224,3077) {\Tc{......}};
\end{tikzpicture}
\end{document}
